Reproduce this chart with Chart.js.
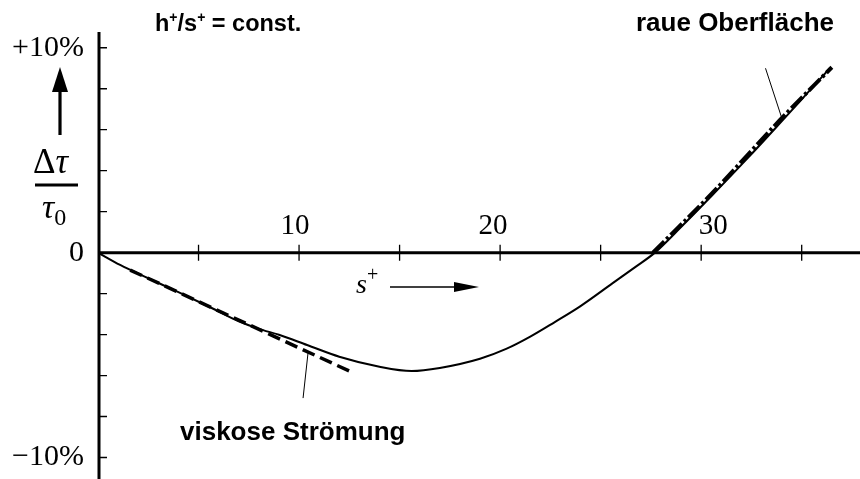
<!DOCTYPE html>
<html>
<head>
<meta charset="utf-8">
<script src="https://cdn.jsdelivr.net/npm/chart.js@4.4.1/dist/chart.umd.min.js"></script>
<style>
  html, body { margin: 0; padding: 0; background: #fff; }
  #wrap { width: 860px; height: 479px; position: relative; }
</style>
</head>
<body>
<div id="wrap"><canvas id="chart"></canvas></div>
<script>
// s+ values and relative change of wall shear stress in %
const solidS = [0, 1.1, 2.5, 4, 5.5, 7, 8, 9, 10.4, 12, 14, 15.6, 17, 19, 20.3, 21.5, 22.7, 24, 25.6, 26.7, 27.7, 29, 30.5, 32.3, 33.9, 35.2, 36.4];
const solidY = [0, -0.6, -1.25, -1.93, -2.63, -3.35, -3.72, -4.01, -4.51, -5.08, -5.57, -5.78, -5.63, -5.18, -4.7, -4.1, -3.4, -2.61, -1.49, -0.72, 0, 1.25, 2.75, 4.6, 6.3, 7.7, 9.0];

// asymptote for viscous flow
const viscousS = [1.6, 12.5];
const viscousY = [-0.85, -5.78];

// asymptote for rough surface
const roughS = [27.6, 30.5, 33.9, 36.5];
const roughY = [0, 2.85, 6.45, 9.05];

// leader lines of the two notes
const leaderViscS = [10.2, 10.45];
const leaderViscY = [-7.1, -4.86];
const leaderRoughS = [33.2, 34.05];
const leaderRoughY = [9.0, 6.45];

const xTicks = [5, 10, 15, 20, 25, 30, 35];
const xTickLabels = ["10", "20", "30"];
const yTicks = [-10, -8, -6, -4, -2, 0, 2, 4, 6, 8, 10];
const yTickLabels = { "10": "+10%", "0": "0", "-10": "\u221210%" };

function pts(xs, ys) {
  return xs.map((x, i) => ({ x: x, y: ys[i] }));
}

const serif = "'Liberation Serif', 'Times New Roman', serif";
const sans = "'Liberation Sans', Arial, sans-serif";

// draws a list of [text, font, dy] pieces one after another
function drawRuns(ctx, x, y, runs) {
  runs.forEach(r => {
    ctx.font = r[1];
    ctx.fillText(r[0], x, y + (r[2] || 0));
    x += ctx.measureText(r[0]).width;
  });
}

const axesPlugin = {
  id: "axesPlugin",
  afterDraw(chart) {
    const ctx = chart.ctx;
    const xs = chart.scales.x, ys = chart.scales.y;
    const area = chart.chartArea;
    const y0 = ys.getPixelForValue(0);
    ctx.save();
    ctx.strokeStyle = "#000";
    ctx.fillStyle = "#000";

    // axis lines
    ctx.lineWidth = 3;
    ctx.beginPath();
    ctx.moveTo(area.left + 1, area.top);
    ctx.lineTo(area.left + 1, area.bottom);
    ctx.moveTo(area.left, y0);
    ctx.lineTo(area.right, y0);
    ctx.stroke();

    // tick marks
    ctx.lineWidth = 1.3;
    ctx.beginPath();
    xTicks.forEach(v => {
      const px = xs.getPixelForValue(v);
      ctx.moveTo(px, y0 - 8);
      ctx.lineTo(px, y0 + 8);
    });
    yTicks.forEach(v => {
      if (v === 0) return;
      const py = ys.getPixelForValue(v);
      ctx.moveTo(area.left, py);
      ctx.lineTo(area.left + 9, py);
    });
    ctx.stroke();

    // x labels above the axis
    ctx.font = "29px " + serif;
    ctx.textAlign = "center";
    ctx.textBaseline = "alphabetic";
    const shift = { "10": -4, "20": -7, "30": 12 };
    xTickLabels.forEach(t => {
      ctx.fillText(t, xs.getPixelForValue(+t) + shift[t], y0 - 19);
    });

    // y axis title: arrow and fraction
    ctx.lineWidth = 3.2;
    ctx.beginPath();
    ctx.moveTo(60, 135);
    ctx.lineTo(60, 90);
    ctx.stroke();
    ctx.beginPath();
    ctx.moveTo(60, 67);
    ctx.lineTo(52, 92);
    ctx.lineTo(68, 92);
    ctx.closePath();
    ctx.fill();

    ctx.textAlign = "left";
    drawRuns(ctx, 33, 173, [["\u0394", "35px " + serif], ["\u03c4", "italic 35px " + serif]]);
    ctx.fillRect(35, 183.5, 43, 3);
    drawRuns(ctx, 42, 218, [["\u03c4", "italic 34px " + serif], ["0", "24px " + serif, 7]]);

    // x axis title with arrow
    drawRuns(ctx, 356, 293, [["s", "italic 28px " + serif], ["+", "20px " + serif, -12]]);
    ctx.lineWidth = 1.3;
    ctx.beginPath();
    ctx.moveTo(390, 287);
    ctx.lineTo(458, 287);
    ctx.stroke();
    ctx.beginPath();
    ctx.moveTo(479, 287);
    ctx.lineTo(454, 282);
    ctx.lineTo(454, 292);
    ctx.closePath();
    ctx.fill();

    // notes
    drawRuns(ctx, 155, 31, [
      ["h", "bold 23.5px " + sans], ["+", "bold 14px " + sans, -9],
      ["/s", "bold 23.5px " + sans], ["+", "bold 14px " + sans, -9],
      [" = const.", "bold 23.5px " + sans]
    ]);
    ctx.font = "bold 26px " + sans;
    ctx.fillText("raue Oberfläche", 636, 31);
    ctx.fillText("viskose Strömung", 180, 440);
    ctx.restore();
  }
};

new Chart(document.getElementById("chart"), {
  type: "scatter",
  data: {
    datasets: [
      { label: "\u0394\u03c4/\u03c40", data: pts(solidS, solidY), showLine: true, borderColor: "#000", borderWidth: 2, cubicInterpolationMode: "monotone", pointRadius: 0 },
      { label: "viskose Strömung", data: pts(viscousS, viscousY), showLine: true, borderColor: "#000", borderWidth: 3.5, borderDash: [13, 6], pointRadius: 0 },
      { label: "raue Oberfläche", data: pts(roughS, roughY), showLine: true, borderColor: "#000", borderWidth: 4, borderDash: [16, 3, 3, 3], cubicInterpolationMode: "monotone", pointRadius: 0 },
      { label: "leader1", data: pts(leaderViscS, leaderViscY), showLine: true, borderColor: "#000", borderWidth: 1, pointRadius: 0 },
      { label: "leader2", data: pts(leaderRoughS, leaderRoughY), showLine: true, borderColor: "#000", borderWidth: 1, pointRadius: 0 }
    ]
  },
  options: {
    responsive: true,
    maintainAspectRatio: false,
    animation: false,
    devicePixelRatio: 1,
    layout: { autoPadding: false, padding: { top: 32, right: 0, bottom: 0, left: 0 } },
    plugins: { legend: { display: false }, tooltip: { enabled: false } },
    scales: {
      x: {
        type: "linear",
        min: 0,
        max: 37.9,
        display: false
      },
      y: {
        type: "linear",
        min: -11.05,
        max: 10.77,
        grid: { display: false, drawTicks: false },
        border: { display: false },
        afterBuildTicks: s => { s.ticks = yTicks.map(v => ({ value: v })); },
        afterFit: s => { s.width = 98; s.paddingTop = 0; s.paddingBottom = 0; },
        ticks: {
          color: "#000",
          padding: 14,
          font: { family: serif, size: 30 },
          callback: v => yTickLabels[String(v)] || ""
        }
      }
    }
  },
  plugins: [axesPlugin]
});
</script>
</body>
</html>
